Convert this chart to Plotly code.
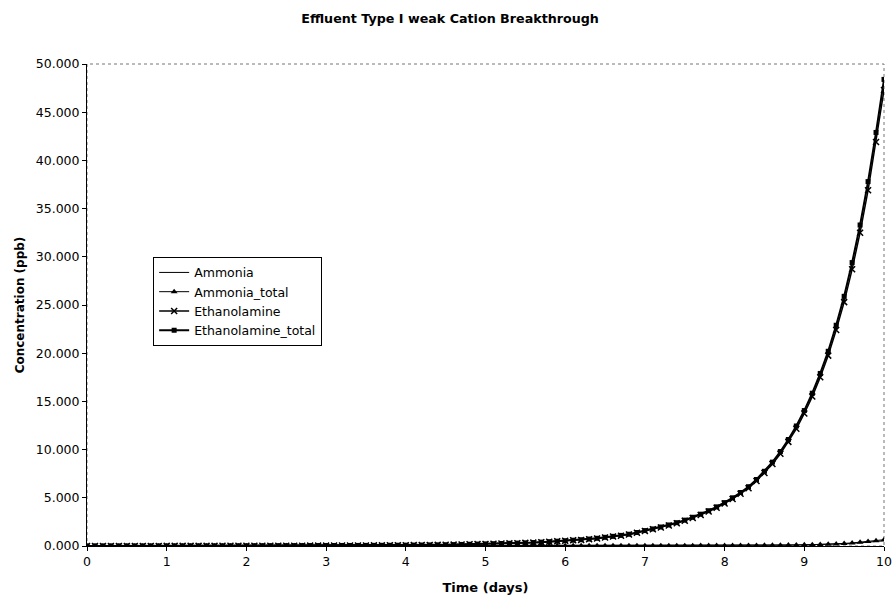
import plotly.graph_objects as go

# Sampling times (days)
days = [
    0.0, 0.1, 0.2, 0.3, 0.4, 0.5, 0.6, 0.7, 0.8, 0.9,
    1.0, 1.1, 1.2, 1.3, 1.4, 1.5, 1.6, 1.7, 1.8, 1.9,
    2.0, 2.1, 2.2, 2.3, 2.4, 2.5, 2.6, 2.7, 2.8, 2.9,
    3.0, 3.1, 3.2, 3.3, 3.4, 3.5, 3.6, 3.7, 3.8, 3.9,
    4.0, 4.1, 4.2, 4.3, 4.4, 4.5, 4.6, 4.7, 4.8, 4.9,
    5.0, 5.1, 5.2, 5.3, 5.4, 5.5, 5.6, 5.7, 5.8, 5.9,
    6.0, 6.1, 6.2, 6.3, 6.4, 6.5, 6.6, 6.7, 6.8, 6.9,
    7.0, 7.1, 7.2, 7.3, 7.4, 7.5, 7.6, 7.7, 7.8, 7.9,
    8.0, 8.1, 8.2, 8.3, 8.4, 8.5, 8.6, 8.7, 8.8, 8.9,
    9.0, 9.1, 9.2, 9.3, 9.4, 9.5, 9.6, 9.7, 9.8, 9.9,
    10.0,
]

# Effluent concentrations (ppb)
ammonia = [
    0.000, 0.000, 0.001, 0.001, 0.001, 0.002, 0.002, 0.002, 0.003, 0.003,
    0.003, 0.004, 0.004, 0.004, 0.005, 0.005, 0.005, 0.006, 0.006, 0.006,
    0.007, 0.007, 0.007, 0.008, 0.008, 0.008, 0.009, 0.009, 0.009, 0.010,
    0.010, 0.010, 0.011, 0.011, 0.011, 0.012, 0.012, 0.012, 0.013, 0.013,
    0.013, 0.014, 0.014, 0.014, 0.015, 0.015, 0.016, 0.016, 0.017, 0.017,
    0.018, 0.018, 0.019, 0.019, 0.020, 0.020, 0.021, 0.021, 0.022, 0.022,
    0.023, 0.023, 0.024, 0.024, 0.025, 0.025, 0.026, 0.026, 0.027, 0.027,
    0.028, 0.028, 0.029, 0.029, 0.030, 0.030, 0.031, 0.031, 0.032, 0.032,
    0.033, 0.037, 0.041, 0.046, 0.052, 0.058, 0.065, 0.072, 0.080, 0.090,
    0.100, 0.115, 0.133, 0.155, 0.180, 0.220, 0.265, 0.320, 0.380, 0.450,
    0.540,
]

ammonia_total = [
    0.000, 0.001, 0.001, 0.002, 0.002, 0.003, 0.003, 0.004, 0.004, 0.005,
    0.005, 0.006, 0.006, 0.007, 0.007, 0.008, 0.008, 0.009, 0.009, 0.010,
    0.010, 0.011, 0.011, 0.012, 0.012, 0.013, 0.013, 0.014, 0.014, 0.015,
    0.015, 0.016, 0.016, 0.017, 0.017, 0.018, 0.018, 0.019, 0.019, 0.020,
    0.020, 0.021, 0.021, 0.022, 0.022, 0.023, 0.023, 0.024, 0.024, 0.025,
    0.025, 0.026, 0.026, 0.027, 0.027, 0.028, 0.028, 0.029, 0.029, 0.030,
    0.030, 0.031, 0.031, 0.032, 0.032, 0.033, 0.033, 0.034, 0.034, 0.035,
    0.035, 0.036, 0.036, 0.037, 0.037, 0.038, 0.038, 0.039, 0.039, 0.040,
    0.040, 0.045, 0.050, 0.056, 0.063, 0.070, 0.078, 0.087, 0.097, 0.108,
    0.120, 0.140, 0.160, 0.190, 0.220, 0.270, 0.320, 0.390, 0.460, 0.550,
    0.650,
]

ethanolamine = [
    0.000, 0.001, 0.002, 0.003, 0.004, 0.005, 0.006, 0.007, 0.008, 0.009,
    0.010, 0.011, 0.012, 0.013, 0.014, 0.015, 0.016, 0.017, 0.018, 0.019,
    0.021, 0.023, 0.025, 0.027, 0.029, 0.031, 0.033, 0.035, 0.037, 0.039,
    0.042, 0.045, 0.048, 0.051, 0.055, 0.059, 0.063, 0.067, 0.071, 0.076,
    0.083, 0.090, 0.098, 0.107, 0.117, 0.127, 0.141, 0.156, 0.175, 0.195,
    0.215, 0.234, 0.254, 0.273, 0.293, 0.322, 0.351, 0.390, 0.439, 0.488,
    0.540, 0.590, 0.630, 0.700, 0.780, 0.880, 0.980, 1.070, 1.190, 1.370,
    1.560, 1.730, 1.920, 2.130, 2.360, 2.620, 2.910, 3.220, 3.570, 3.960,
    4.400, 4.880, 5.420, 6.000, 6.740, 7.570, 8.500, 9.570, 10.800, 12.160,
    13.750, 15.500, 17.500, 19.750, 22.400, 25.300, 28.700, 32.500, 36.900, 41.900,
    47.300,
]

ethanolamine_total = [
    0.000, 0.001, 0.002, 0.003, 0.004, 0.005, 0.006, 0.007, 0.008, 0.009,
    0.010, 0.011, 0.012, 0.013, 0.014, 0.015, 0.016, 0.017, 0.018, 0.020,
    0.022, 0.024, 0.026, 0.028, 0.030, 0.032, 0.034, 0.036, 0.038, 0.040,
    0.043, 0.046, 0.049, 0.052, 0.056, 0.060, 0.064, 0.068, 0.073, 0.078,
    0.085, 0.092, 0.100, 0.110, 0.120, 0.130, 0.145, 0.160, 0.180, 0.200,
    0.220, 0.240, 0.260, 0.280, 0.300, 0.330, 0.360, 0.400, 0.450, 0.500,
    0.550, 0.600, 0.650, 0.720, 0.800, 0.900, 1.000, 1.100, 1.220, 1.400,
    1.600, 1.770, 1.970, 2.180, 2.420, 2.680, 2.980, 3.300, 3.660, 4.060,
    4.500, 5.000, 5.550, 6.150, 6.900, 7.750, 8.700, 9.800, 11.050, 12.450,
    14.050, 15.850, 17.900, 20.200, 22.900, 25.900, 29.400, 33.300, 37.800, 42.900,
    48.400,
]

x_ticks = [0, 1, 2, 3, 4, 5, 6, 7, 8, 9, 10]
y_ticks = [0, 5, 10, 15, 20, 25, 30, 35, 40, 45, 50]

FONT = "DejaVu Sans, Liberation Sans, Arial, sans-serif"

fig = go.Figure()

fig.add_trace(go.Scatter(
    x=days, y=ammonia, name="Ammonia", mode="lines",
    line=dict(color="black", width=1),
))
fig.add_trace(go.Scatter(
    x=days, y=ammonia_total, name="Ammonia_total", mode="lines+markers",
    line=dict(color="black", width=1),
    marker=dict(symbol="triangle-up", size=6, color="black"),
))
fig.add_trace(go.Scatter(
    x=days, y=ethanolamine, name="Ethanolamine", mode="lines+markers",
    line=dict(color="black", width=1.5),
    marker=dict(symbol="x-thin", size=6, color="black",
                line=dict(color="black", width=1.5)),
))
fig.add_trace(go.Scatter(
    x=days, y=ethanolamine_total, name="Ethanolamine_total", mode="lines+markers",
    line=dict(color="black", width=2),
    marker=dict(symbol="square", size=5, color="black"),
))

# dotted plot-area frame behind the solid axis lines
fig.add_shape(
    type="rect", xref="paper", yref="paper", x0=0, x1=1, y0=0, y1=1,
    line=dict(color="#777777", width=1, dash="dot"), layer="below",
)

fig.update_layout(
    width=893, height=602,
    margin=dict(l=87, r=9, t=64, b=56),
    paper_bgcolor="white", plot_bgcolor="white",
    font=dict(family=FONT, size=12, color="black"),
    title=dict(
        text="<b>Effluent Type I weak Cation Breakthrough</b>",
        x=0.504, xanchor="center", y=0.97, yanchor="middle",
        font=dict(family=FONT, size=12.7, color="black"),
    ),
    showlegend=True,
    legend=dict(
        x=0.083, y=0.6, xanchor="left", yanchor="top",
        bgcolor="white", bordercolor="black", borderwidth=1,
        font=dict(family=FONT, size=12.5, color="black"),
        tracegroupgap=0, itemwidth=30,
    ),
)

fig.update_xaxes(
    range=[0, 10], tickvals=x_ticks, ticktext=[str(v) for v in x_ticks],
    showgrid=False, zeroline=False, automargin=False,
    showline=True, linecolor="black", linewidth=1,
    ticks="outside", ticklen=4, tickcolor="black",
    tickfont=dict(family=FONT, size=12.5, color="black"),
    title=dict(text="<b>Time (days)</b>", standoff=14,
               font=dict(family=FONT, size=13, color="black")),
)
fig.update_yaxes(
    range=[0, 50], tickvals=y_ticks, ticktext=[f"{v:.3f}" for v in y_ticks],
    showgrid=False, zeroline=False, automargin=False,
    showline=True, linecolor="black", linewidth=1,
    ticks="outside", ticklen=4, tickcolor="black",
    tickfont=dict(family=FONT, size=12.5, color="black"),
    title=dict(text="<b>Concentration (ppb)</b>", standoff=8,
               font=dict(family=FONT, size=12, color="black")),
)

fig.write_html("out.html")
